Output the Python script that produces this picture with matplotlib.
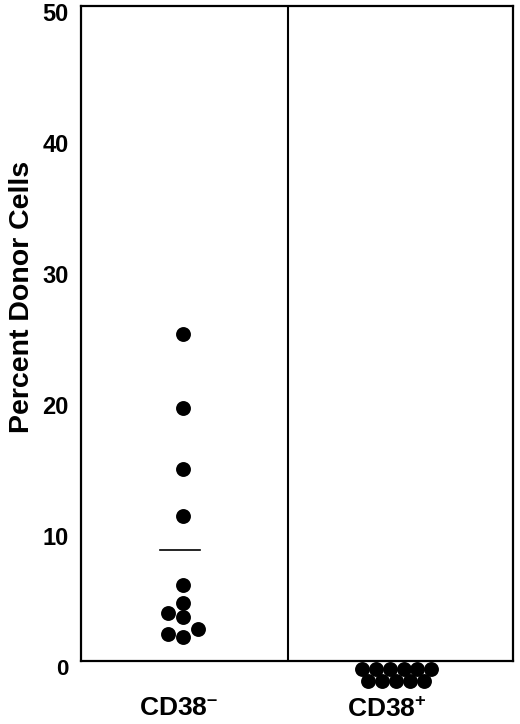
import matplotlib
matplotlib.use("Agg")
import matplotlib.pyplot as plt
import matplotlib.transforms as mtransforms

plt.rcParams["font.family"] = ["Liberation Sans", "DejaVu Sans"]
plt.rcParams["mathtext.fontset"] = "custom"
plt.rcParams["mathtext.rm"] = "Liberation Sans:bold"
plt.rcParams["mathtext.bf"] = "Liberation Sans:bold"
plt.rcParams["mathtext.default"] = "bf"

# data
groups = ["CD38$^{\\text{–}}$", "CD38$^{\\text{+}}$"]
neg_x = [0.0, 0.0, 0.0, 0.0, 0.0, 0.0, -0.07, 0.0, -0.07, 0.0, 0.07]
neg_y = [25.0, 19.3, 14.65, 11.07, 5.8, 4.43, 3.66, 3.36, 2.06, 1.83, 2.44]
pos_x = [-0.16, -0.095, -0.03, 0.035, 0.10, 0.165, -0.13, -0.065, 0.0, 0.065, 0.13]
pos_y = [-0.6] * 6 + [-1.5] * 5
neg_mean = 8.5
yticks = [0, 10, 20, 30, 40, 50]

fig = plt.figure(figsize=(5.2, 7.24), dpi=100)
ax = fig.add_axes([0.156, 0.087, 0.8305, 0.9047])

ax.scatter(neg_x, neg_y, s=115, color="black", zorder=3, clip_on=False, linewidths=0)
ax.scatter([1 + v for v in pos_x], pos_y, s=115, color="black", zorder=3,
           clip_on=False, linewidths=0)
ax.plot([-0.11, 0.08], [neg_mean, neg_mean], color="black", lw=1.2)
ax.axvline(0.493, color="black", lw=1.5)

ax.set_xlim(-0.479, 1.549)
ax.set_ylim(0, 50)
for s in ax.spines.values():
    s.set_linewidth(1.6)

ax.set_yticks(yticks)
ax.tick_params(axis="y", length=0, pad=9, labelsize=17)
off = mtransforms.ScaledTranslation(0, -4.5 / 72, fig.dpi_scale_trans)
for lbl in ax.get_yticklabels():
    lbl.set_transform(lbl.get_transform() + off)
    lbl.set_fontweight("bold")
ax.get_yticklabels()[0].set_fontsize(16)

ax.set_xticks([0, 1])
ax.set_xticklabels(groups, fontsize=19, fontweight="bold")
ax.tick_params(axis="x", length=0, pad=25)
xoffs = [(-4, 0), (-9, -2)]
for lbl, (dx, dy) in zip(ax.get_xticklabels(), xoffs):
    lbl.set_transform(lbl.get_transform()
                      + mtransforms.ScaledTranslation(dx / 100, dy / 100, fig.dpi_scale_trans))

ax.set_ylabel("Percent Donor Cells", fontsize=20.5, fontweight="bold")
ax.yaxis.set_label_coords(-0.107, 0.556)

fig.savefig("out.png", dpi=100)
